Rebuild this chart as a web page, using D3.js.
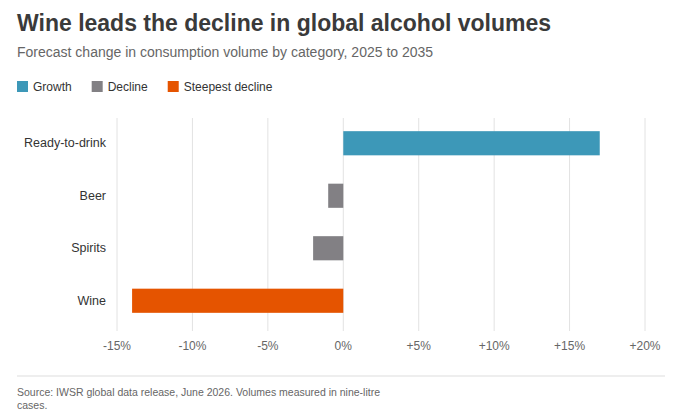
<!DOCTYPE html>
<html><head><meta charset="utf-8">
<script src="https://cdn.jsdelivr.net/npm/d3@7"></script>
<style>
body{margin:0;background:#fff;font-family:Arial,"Liberation Sans",sans-serif}
</style></head><body>
<svg id="chart" width="674" height="416"></svg>
<script>
const categories = ["Ready-to-drink", "Beer", "Spirits", "Wine"]
const values = [17, -1, -2, -14]
const kinds = ["Growth", "Decline", "Decline", "Steepest decline"]
const tickValues = [-15, -10, -5, 0, 5, 10, 15, 20]
const legendItems = ["Growth", "Decline", "Steepest decline"]

const color = d3.scaleOrdinal().domain(legendItems).range(["#3d98b8", "#828084", "#e55400"])

let svg = d3.select("#chart")

svg.append("text").attr("x", 17).attr("y", 31)
  .style("font-size", "23px").style("font-weight", "bold").attr("fill", "#3a3a3a")
  .text("Wine leads the decline in global alcohol volumes")
svg.append("text").attr("x", 17).attr("y", 57)
  .style("font-size", "14px").attr("fill", "#666")
  .text("Forecast change in consumption volume by category, 2025 to 2035")

// legend
let lx = 17
legendItems.forEach(k => {
  svg.append("rect").attr("x", lx).attr("y", 81).attr("width", 11).attr("height", 11).attr("fill", color(k))
  let t = svg.append("text").attr("x", lx + 16).attr("y", 91).style("font-size", "12px").attr("fill", "#333").text(k)
  lx += 16 + t.node().getComputedTextLength() + 20
})

const x = d3.scaleLinear().domain([-15, 20]).range([117, 645])
const y = d3.scaleBand().domain(categories).range([117, 327]).paddingInner(0.54).paddingOuter(0.27)

svg.append("g").selectAll("line").data(tickValues).enter().append("line")
  .attr("x1", d => x(d)).attr("x2", d => x(d))
  .attr("y1", 118).attr("y2", 331)
  .attr("stroke", "#e2e2e2").attr("stroke-width", 1)

svg.append("g").selectAll("text").data(tickValues).enter().append("text")
  .attr("x", d => x(d)).attr("y", 350).attr("text-anchor", "middle")
  .style("font-size", "12px").attr("fill", "#666")
  .text(d => (d > 0 ? "+" : "") + d + "%")

svg.append("g").selectAll("rect").data(categories).enter().append("rect")
  .attr("x", (d, i) => x(Math.min(0, values[i])))
  .attr("width", (d, i) => Math.abs(x(values[i]) - x(0)))
  .attr("y", d => y(d)).attr("height", y.bandwidth())
  .attr("fill", (d, i) => color(kinds[i]))

svg.append("g").selectAll("text").data(categories).enter().append("text")
  .attr("x", 106).attr("y", d => y(d) + y.bandwidth() / 2 + 4).attr("text-anchor", "end")
  .style("font-size", "12.5px").attr("fill", "#333").text(d => d)

svg.append("line").attr("x1", 17).attr("x2", 665).attr("y1", 376).attr("y2", 376).attr("stroke", "#ddd")
svg.append("text").attr("x", 17).attr("y", 396).style("font-size", "10.5px").attr("fill", "#666")
  .text("Source: IWSR global data release, June 2026. Volumes measured in nine-litre")
svg.append("text").attr("x", 17).attr("y", 409).style("font-size", "10.5px").attr("fill", "#666").text("cases.")
</script></body></html>
